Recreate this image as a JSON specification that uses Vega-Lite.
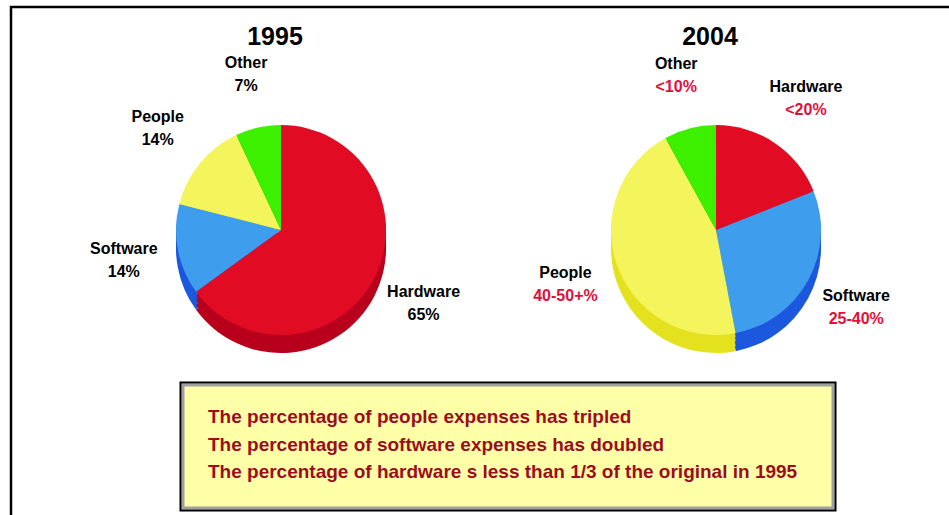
{
  "$schema": "https://vega.github.io/schema/vega-lite/v6.json",
  "width": 938,
  "height": 508,
  "autosize": {"type": "none"},
  "padding": {"left": 11, "top": 7, "right": 0, "bottom": 0},
  "background": "#ffffff",
  "config": {
    "view": {"stroke": "#000000", "strokeWidth": 2.5, "strokeDash": [938, 1446, 508]},
    "font": "Liberation Sans",
    "text": {"font": "Liberation Sans"}
  },
  "datasets": {
    "pies": [
      {"year": "1995", "cat": "Hardware", "v": 65, "k": 1, "label": "65%"},
      {"year": "1995", "cat": "Software", "v": 14, "k": 2, "label": "14%"},
      {"year": "1995", "cat": "People", "v": 14, "k": 3, "label": "14%"},
      {"year": "1995", "cat": "Other", "v": 7, "k": 4, "label": "7%"},
      {"year": "2004", "cat": "Hardware", "v": 19, "k": 1, "label": "<20%"},
      {"year": "2004", "cat": "Software", "v": 28, "k": 2, "label": "25-40%"},
      {"year": "2004", "cat": "People", "v": 45, "k": 3, "label": "40-50+%"},
      {"year": "2004", "cat": "Other", "v": 8, "k": 4, "label": "<10%"}
    ],
    "titles": [{"year": "1995"}, {"year": "2004"}],
    "notes": [
      {"box": "notes", "order": 1, "line": "The percentage of people expenses has tripled"},
      {"box": "notes", "order": 2, "line": "The percentage of software expenses has doubled"},
      {"box": "notes", "order": 3, "line": "The percentage of hardware s less than 1/3 of the original in 1995"}
    ]
  },
  "resolve": {"scale": {"x": "independent", "y": "independent"}},
  "layer": [
    {
      "data": {"name": "pies"},
      "transform": [{"filter": "datum.year == '1995'"}],
      "encoding": {
        "x": {"field": "year", "type": "nominal", "axis": null, "scale": {"type": "point", "domain": ["1995", "2004"], "range": [270, 705], "padding": 0}},
        "y": {"field": "year", "type": "nominal", "axis": null, "scale": {"type": "point", "domain": ["1995", "2004"], "range": [223, 223], "padding": 0}},
        "theta": {"field": "v", "type": "quantitative", "stack": true, "scale": {"domain": [0, 100]}},
        "order": {"field": "k", "type": "quantitative", "sort": "ascending"}
      },
      "layer": [
        {"mark": {"type": "arc", "radius": 105, "yOffset": 18}, "encoding": {"fill": {"field": "cat", "type": "nominal", "legend": null, "scale": {"domain": ["Hardware", "Software", "People", "Other"], "range": ["#b8001c", "#1c58de", "#e4e21e", "#2fc000"]}}}},
        {"mark": {"type": "arc", "radius": 105, "yOffset": 13}, "encoding": {"fill": {"field": "cat", "type": "nominal", "legend": null}}},
        {"mark": {"type": "arc", "radius": 105, "yOffset": 8}, "encoding": {"fill": {"field": "cat", "type": "nominal", "legend": null}}},
        {"mark": {"type": "arc", "radius": 105, "yOffset": 4}, "encoding": {"fill": {"field": "cat", "type": "nominal", "legend": null}}},
        {"mark": {"type": "arc", "radius": 105}, "encoding": {"color": {"field": "cat", "type": "nominal", "legend": null, "scale": {"domain": ["Hardware", "Software", "People", "Other"], "range": ["#e10b24", "#3f9ded", "#f4f45c", "#3cf000"]}}}},
        {"mark": {"type": "text", "radius": 160, "dy": -11, "fontSize": 16, "fontWeight": "bold", "color": "#000000"}, "encoding": {"text": {"field": "cat"}}},
        {"mark": {"type": "text", "radius": 160, "dy": 12, "fontSize": 16, "fontWeight": "bold", "color": "#000000"}, "encoding": {"text": {"field": "label"}}}
      ]
    },
    {
      "data": {"name": "pies"},
      "transform": [{"filter": "datum.year == '2004'"}],
      "encoding": {
        "x": {"field": "year", "type": "nominal", "axis": null, "scale": {"type": "point", "domain": ["1995", "2004"], "range": [270, 705], "padding": 0}},
        "y": {"field": "year", "type": "nominal", "axis": null, "scale": {"type": "point", "domain": ["1995", "2004"], "range": [223, 223], "padding": 0}},
        "theta": {"field": "v", "type": "quantitative", "stack": true, "scale": {"domain": [0, 100]}},
        "order": {"field": "k", "type": "quantitative", "sort": "ascending"}
      },
      "layer": [
        {"mark": {"type": "arc", "radius": 105, "yOffset": 18}, "encoding": {"fill": {"field": "cat", "type": "nominal", "legend": null, "scale": {"domain": ["Hardware", "Software", "People", "Other"], "range": ["#b8001c", "#1c58de", "#e4e21e", "#2fc000"]}}}},
        {"mark": {"type": "arc", "radius": 105, "yOffset": 13}, "encoding": {"fill": {"field": "cat", "type": "nominal", "legend": null}}},
        {"mark": {"type": "arc", "radius": 105, "yOffset": 8}, "encoding": {"fill": {"field": "cat", "type": "nominal", "legend": null}}},
        {"mark": {"type": "arc", "radius": 105, "yOffset": 4}, "encoding": {"fill": {"field": "cat", "type": "nominal", "legend": null}}},
        {"mark": {"type": "arc", "radius": 105}, "encoding": {"color": {"field": "cat", "type": "nominal", "legend": null, "scale": {"domain": ["Hardware", "Software", "People", "Other"], "range": ["#e10b24", "#3f9ded", "#f4f45c", "#3cf000"]}}}},
        {"mark": {"type": "text", "radius": 160, "dy": -11, "fontSize": 16, "fontWeight": "bold", "color": "#000000"}, "encoding": {"text": {"field": "cat"}}},
        {"mark": {"type": "text", "radius": 160, "dy": 12, "fontSize": 16, "fontWeight": "bold", "color": "#e0103a"}, "encoding": {"text": {"field": "label"}}}
      ]
    },
    {
      "data": {"name": "titles"},
      "mark": {"type": "text", "fontSize": 25, "fontWeight": "bold", "color": "#000000", "baseline": "middle"},
      "encoding": {
        "x": {"field": "year", "type": "nominal", "axis": null, "scale": {"type": "point", "domain": ["1995", "2004"], "range": [264, 699], "padding": 0}},
        "y": {"field": "year", "type": "nominal", "axis": null, "scale": {"type": "point", "domain": ["1995", "2004"], "range": [30, 30], "padding": 0}},
        "text": {"field": "year"}
      }
    },
    {
      "data": {"name": "notes"},
      "transform": [{"filter": "datum.order == 1"}],
      "mark": {"type": "rect", "fill": "#ffffa8", "stroke": "#a0a0a0", "strokeWidth": 3},
      "encoding": {
        "x": {"field": "box", "type": "nominal", "axis": null, "scale": {"type": "band", "domain": ["notes"], "range": [172, 822], "paddingInner": 0, "paddingOuter": 0}},
        "y": {"field": "box", "type": "nominal", "axis": null, "scale": {"type": "band", "domain": ["notes"], "range": [378, 501], "paddingInner": 0, "paddingOuter": 0}}
      }
    },
    {
      "data": {"name": "notes"},
      "transform": [{"filter": "datum.order == 1"}],
      "mark": {"type": "rect", "filled": false, "stroke": "#000000", "strokeWidth": 2},
      "encoding": {
        "x": {"field": "box", "type": "nominal", "axis": null, "scale": {"type": "band", "domain": ["notes"], "range": [169.5, 824.5], "paddingInner": 0, "paddingOuter": 0}},
        "y": {"field": "box", "type": "nominal", "axis": null, "scale": {"type": "band", "domain": ["notes"], "range": [375.5, 503.5], "paddingInner": 0, "paddingOuter": 0}}
      }
    },
    {
      "data": {"name": "notes"},
      "mark": {"type": "text", "align": "left", "baseline": "alphabetic", "dx": 25, "fontSize": 19, "fontWeight": "bold", "color": "#9b0d1f"},
      "encoding": {
        "x": {"field": "box", "type": "nominal", "bandPosition": 0, "axis": null, "scale": {"type": "band", "domain": ["notes"], "range": [172, 822], "paddingInner": 0, "paddingOuter": 0}},
        "y": {"field": "order", "type": "ordinal", "axis": null, "scale": {"type": "point", "domain": [1, 2, 3], "range": [416, 471], "padding": 0}},
        "text": {"field": "line"}
      }
    }
  ]
}
